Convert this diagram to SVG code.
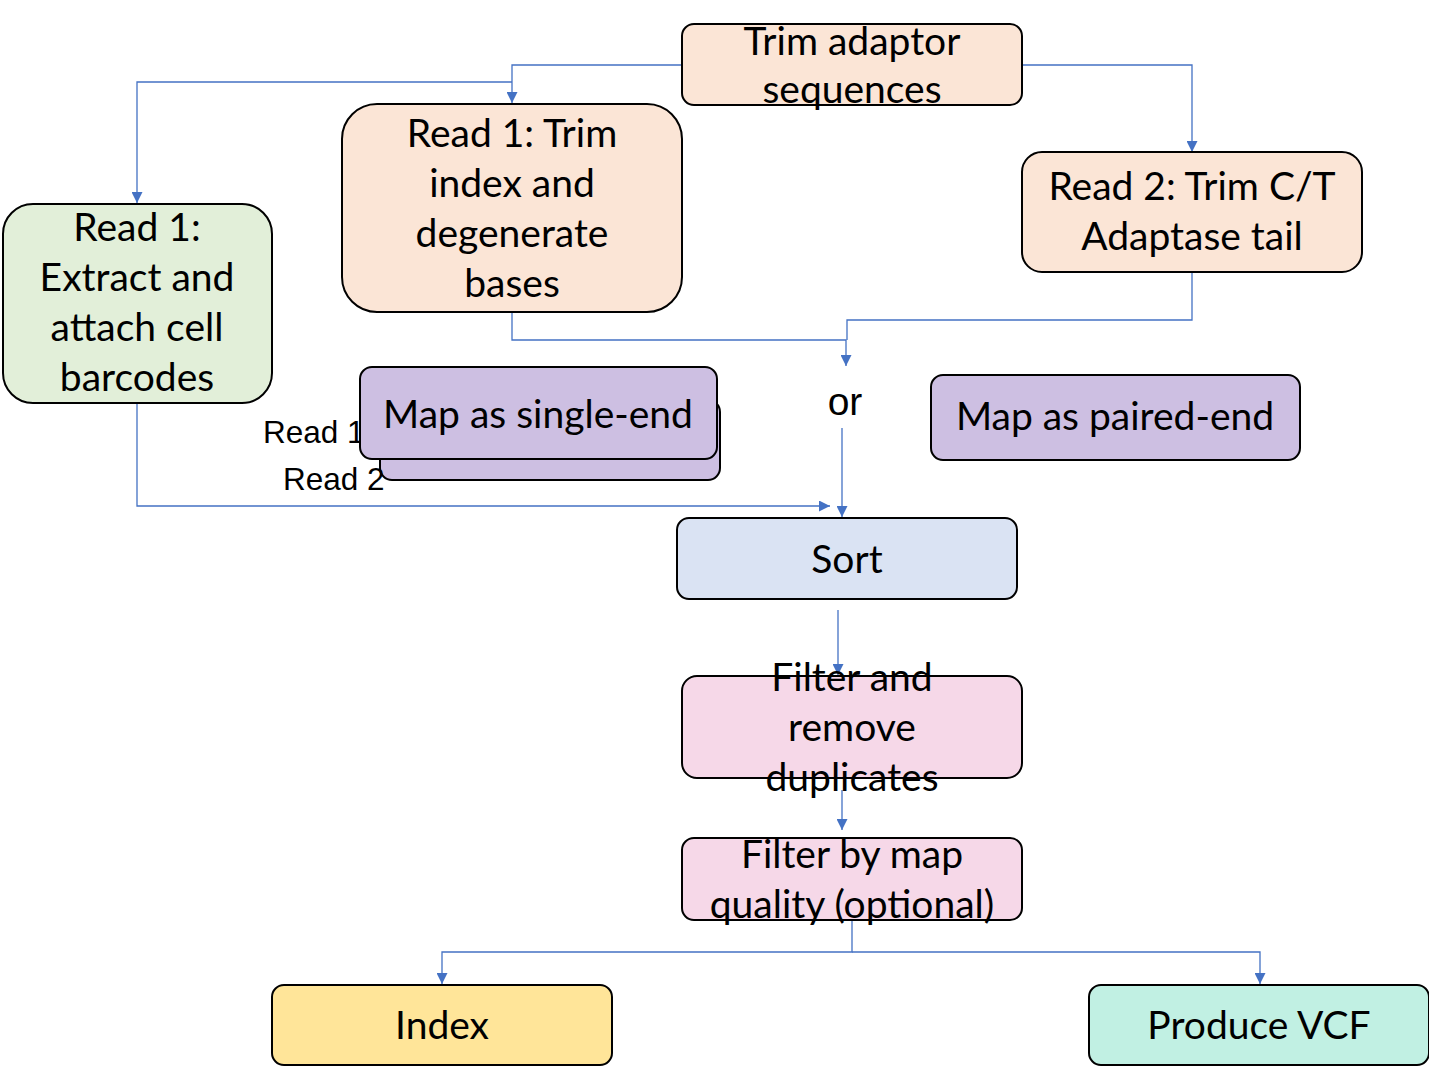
<svg xmlns="http://www.w3.org/2000/svg" width="1429" height="1075" viewBox="0 0 1429 1075">
<style>
.n{stroke:#000;stroke-width:2}
.t{font-family:Lato,"Open Sans","Liberation Sans",sans-serif;font-size:39px;fill:#000;text-anchor:middle}
.a{font-family:"Liberation Sans",Arial,sans-serif;font-size:31.5px;fill:#000}
.c{fill:none;stroke:#4472c4;stroke-width:1.3}
</style>
<defs>
<marker id="ar" viewBox="0 0 10 10" refX="10" refY="5" markerWidth="12" markerHeight="11" markerUnits="userSpaceOnUse" orient="auto">
<path d="M0,0 L10,5 L0,10 Z" fill="#4472c4"/>
</marker>
</defs>
<g id="connectors">
<path class="c" d="M682,65 H512 V103" marker-end="url(#ar)"/>
<path class="c" d="M512,82 H137 V203" marker-end="url(#ar)"/>
<path class="c" d="M1022,65 H1192 V152" marker-end="url(#ar)"/>
<path class="c" d="M512,312 V340 H846 V366" marker-end="url(#ar)"/>
<path class="c" d="M1192,272 V320 H847 V340"/>
<path class="c" d="M842,428 V517" marker-end="url(#ar)"/>
<path class="c" d="M137,403 V506 H830" marker-end="url(#ar)"/>
<path class="c" d="M838,610 V675" marker-end="url(#ar)"/>
<path class="c" d="M842,790 V830" marker-end="url(#ar)"/>
<path class="c" d="M852,920 V952 H442 V984" marker-end="url(#ar)"/>
<path class="c" d="M852,952 H1260 V984" marker-end="url(#ar)"/>
</g>
<g id="trim-adaptor">
<rect class="n" x="682" y="24" width="340" height="81" rx="12" fill="#fbe5d6"/>
<text class="t" x="852" y="55">Trim adaptor</text>
<text class="t" x="852" y="103">sequences</text>
</g>
<g id="read1-trim">
<rect class="n" x="342" y="104" width="340" height="208" rx="35" fill="#fbe5d6"/>
<text class="t" x="512" y="147">Read 1: Trim</text>
<text class="t" x="512" y="197">index and</text>
<text class="t" x="512" y="247">degenerate</text>
<text class="t" x="512" y="297">bases</text>
</g>
<g id="read2-trim">
<rect class="n" x="1022" y="152" width="340" height="120" rx="20" fill="#fbe5d6"/>
<text class="t" x="1192" y="200">Read 2: Trim C/T</text>
<text class="t" x="1192" y="250">Adaptase tail</text>
</g>
<g id="read1-extract">
<rect class="n" x="3" y="204" width="269" height="199" rx="30" fill="#e2efd9"/>
<text class="t" x="137" y="241">Read 1:</text>
<text class="t" x="137" y="291">Extract and</text>
<text class="t" x="137" y="341">attach cell</text>
<text class="t" x="137" y="391">barcodes</text>
</g>
<g id="map-single">
<rect class="n" x="380" y="400" width="340" height="80" rx="12" fill="#cdbfe2"/>
<text class="a" x="283" y="490">Read 2</text>
<text class="a" x="263" y="443">Read 1</text>
<rect class="n" x="360" y="367" width="357" height="92" rx="12" fill="#cdbfe2"/>
<text class="t" x="538" y="428">Map as single-end</text>
</g>
<g id="or">
<text x="845" y="415" font-family="Liberation Sans,Arial,sans-serif" font-size="39" text-anchor="middle">or</text>
</g>
<g id="map-paired">
<rect class="n" x="931" y="375" width="369" height="85" rx="12" fill="#cdbfe2"/>
<text class="t" x="1115" y="430">Map as paired-end</text>
</g>
<g id="sort">
<rect class="n" x="677" y="518" width="340" height="81" rx="12" fill="#dae3f3"/>
<text class="t" x="847" y="573">Sort</text>
</g>
<g id="filter-dup">
<rect class="n" x="682" y="676" width="340" height="102" rx="15" fill="#f6d8e8"/>
<text class="t" x="852" y="691">Filter and</text>
<text class="t" x="852" y="741">remove</text>
<text class="t" x="852" y="791">duplicates</text>
</g>
<g id="filter-mapq">
<rect class="n" x="682" y="838" width="340" height="82" rx="12" fill="#f6d8e8"/>
<text class="t" x="852" y="868">Filter by map</text>
<text class="t" x="852" y="918">quality (optional)</text>
</g>
<g id="index">
<rect class="n" x="272" y="985" width="340" height="80" rx="12" fill="#ffe599"/>
<text class="t" x="442" y="1039">Index</text>
</g>
<g id="vcf">
<rect class="n" x="1089" y="985" width="340" height="80" rx="12" fill="#c1f0e3"/>
<text class="t" x="1259" y="1039">Produce VCF</text>
</g>
</svg>
